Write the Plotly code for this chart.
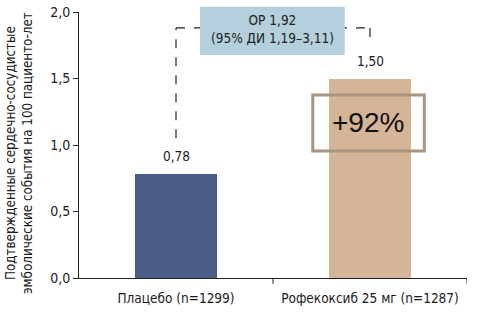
import plotly.graph_objects as go

categories = ["Плацебо (n=1299)", "Рофекоксиб 25 мг (n=1287)"]
values = [0.78, 1.50]
value_labels = ["0,78", "1,50"]
bar_colors = ["#4a5d87", "#d4b597"]
y_ticks = [0, 0.5, 1.0, 1.5, 2.0]
y_tick_labels = ["0,0", "0,5", "1,0", "1,5", "2,0"]
hr_text = "ОР 1,92<br>(95% ДИ 1,19–3,11)"
increase_text = "+92%"
y_title = "Подтвержденные сердечно-сосудистые<br>эмболические события на 100 пациенто-лет"

FONT = "DejaVu Sans Condensed, sans-serif"

fig = go.Figure()
fig.add_trace(go.Bar(
    x=[0, 1], y=values, width=0.42,
    marker=dict(color=bar_colors, line=dict(width=0)),
    hoverinfo="skip",
))

fig.update_layout(
    width=478, height=325,
    margin=dict(l=79, r=11, t=12, b=47, autoexpand=False),
    paper_bgcolor="white", plot_bgcolor="white",
    showlegend=False,
    font=dict(family=FONT, color="#1a1a1a", size=14),
    bargap=0,
)
fig.update_xaxes(
    range=[-0.5, 1.5], tickmode="array", tickvals=[0, 1], ticktext=categories,
    showline=True, linecolor="#222", linewidth=1, showgrid=False, zeroline=False,
    ticks="", tickfont=dict(size=13.5), ticklabelstandoff=8, automargin=False,
)
fig.update_yaxes(
    range=[0, 2.0], tickmode="array", tickvals=y_ticks, ticktext=y_tick_labels,
    showline=True, linecolor="#222", linewidth=1, showgrid=False, zeroline=False,
    ticks="outside", ticklen=5, tickcolor="#222", tickfont=dict(size=14), automargin=False,
)

# x-axis ticks at category boundaries
for xb in [0.5, 1.5]:
    fig.add_shape(type="line", xref="x", yref="paper", x0=xb, x1=xb, y0=0, y1=-0.022,
                  line=dict(color="#222", width=1))

# dashed bracket
dash = dict(color="#222", width=1.2, dash="dash")
top_y = 1.88
fig.add_shape(type="line", xref="x", yref="y", x0=0, x1=0, y0=values[0] + 0.27, y1=top_y, line=dash)
fig.add_shape(type="line", xref="x", yref="y", x0=0, x1=1, y0=top_y, y1=top_y, line=dash)
fig.add_shape(type="line", xref="x", yref="y", x0=1, x1=1, y0=top_y, y1=1.75, line=dash)

# HR box
fig.add_shape(type="rect", xref="x", yref="paper", x0=0.124, x1=0.87, y0=0.838, y1=1.02,
              fillcolor="#b4d0dd", line=dict(width=0), layer="above")
fig.add_annotation(x=0.497, y=1.87, xref="x", yref="y", text=hr_text, showarrow=False,
                   font=dict(size=13.5, color="#222"), align="center")

# value labels
fig.add_annotation(x=0, y=values[0], xref="x", yref="y", text=value_labels[0], showarrow=False,
                   yanchor="bottom", yshift=8, font=dict(size=13.5))
fig.add_annotation(x=1, y=values[1], xref="x", yref="y", text=value_labels[1], showarrow=False,
                   yanchor="bottom", yshift=8, font=dict(size=13.5))

# +92% box
fig.add_shape(type="rect", xref="x", yref="y", x0=0.705, x1=1.28, y0=0.955, y1=1.376,
              line=dict(color="#a8957f", width=3), fillcolor="rgba(0,0,0,0)", layer="above")
fig.add_annotation(x=0.99, y=1.17, xref="x", yref="y", text=increase_text, showarrow=False,
                   font=dict(size=28, color="#111", family="Liberation Sans, Arial, sans-serif"))

# y title
fig.add_annotation(x=-0.201, y=0.47, xref="paper", yref="paper", text=y_title, showarrow=False,
                   textangle=-90, font=dict(size=13.3), align="center", xanchor="left")

fig.write_html("out.html")
